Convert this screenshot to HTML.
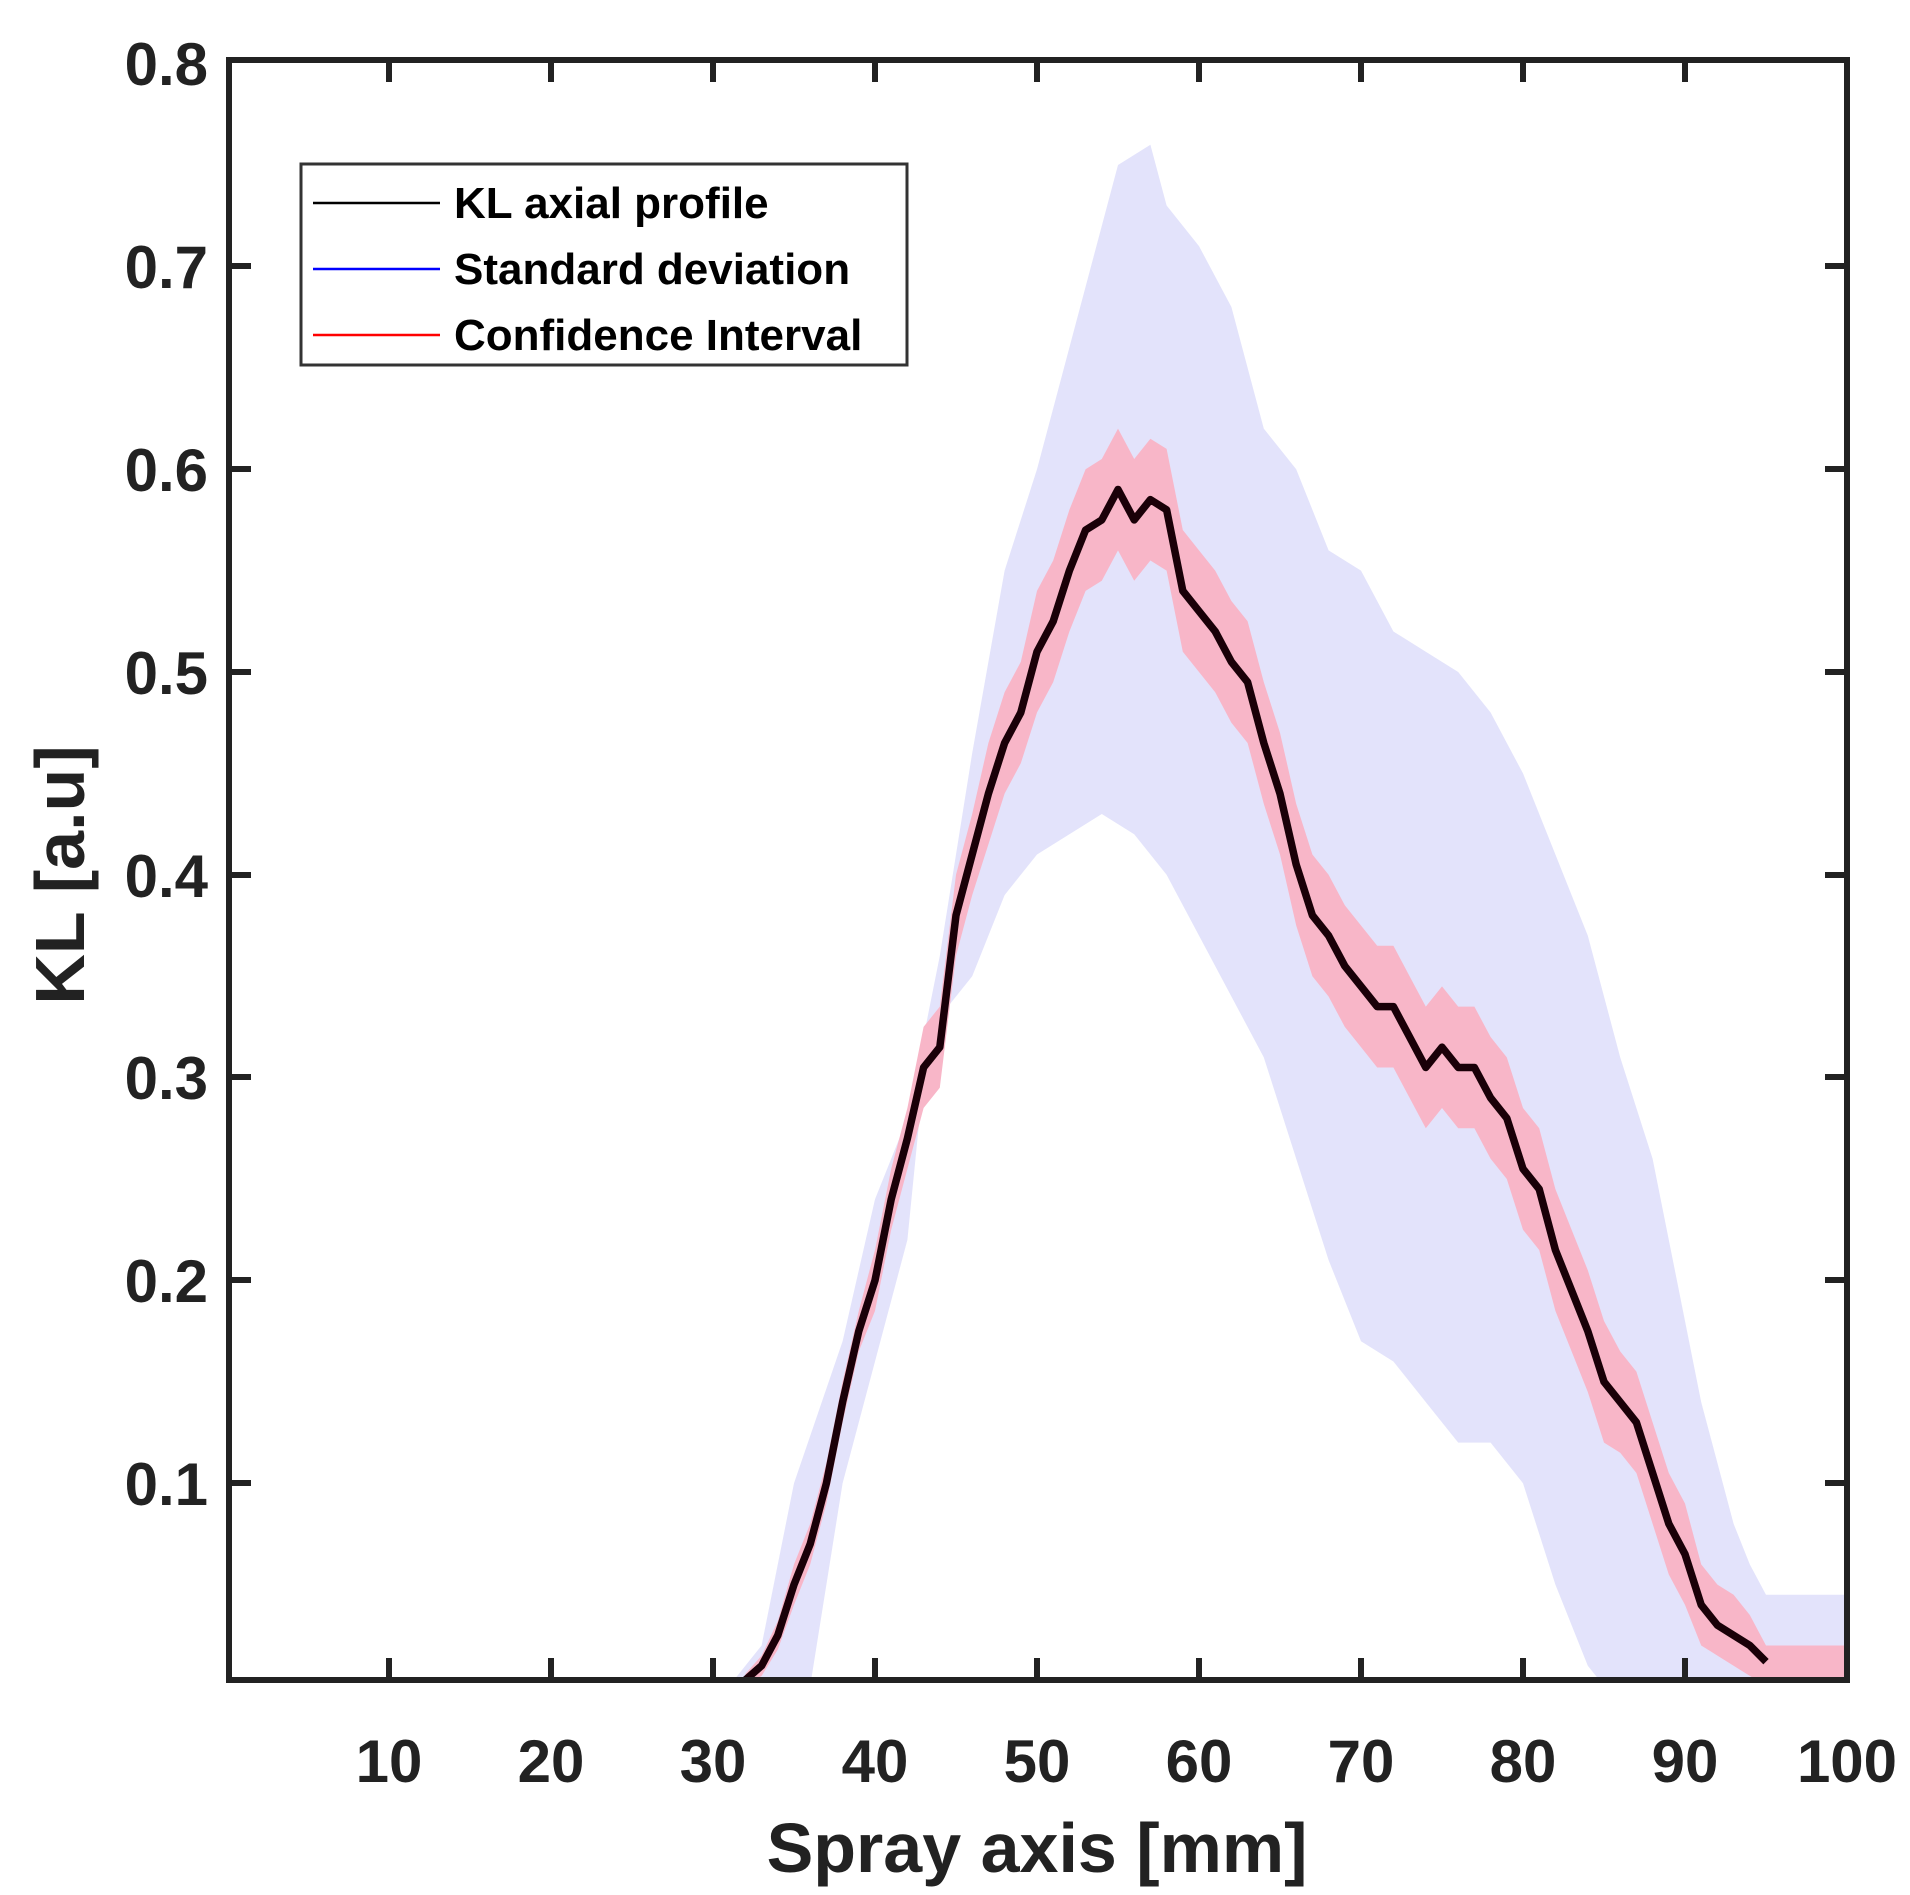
<!DOCTYPE html>
<html><head><meta charset="utf-8"><style>
html,body{margin:0;padding:0;background:#fff;}
svg{display:block;}
text{font-family:"Liberation Sans",Arial,sans-serif;font-weight:bold;fill:#222;}
</style></head><body>
<svg width="1910" height="1895" viewBox="0 0 1910 1895" xmlns="http://www.w3.org/2000/svg">
<defs><clipPath id="c"><rect x="229" y="60" width="1618" height="1620"/></clipPath></defs>
<g clip-path="url(#c)">
<g transform="translate(227,1686) scale(16.2,-2028)">
<polygon fill="#e3e3fb" points="31,0 33,0.02 35,0.1 38,0.17 40,0.24 42,0.28 44,0.36 46,0.46 48,0.55 50,0.6 52,0.66 54,0.72 55,0.75 57,0.76 58,0.73 60,0.71 62,0.68 64,0.62 66,0.6 68,0.56 70,0.55 72,0.52 74,0.51 76,0.5 78,0.48 80,0.45 82,0.41 84,0.37 86,0.31 88,0.26 89,0.22 90,0.18 91,0.14 92,0.11 93,0.08 94,0.06 95,0.045 100,0.045 100,0 85,0 84,0.01 82,0.05 80,0.1 78,0.12 76,0.12 74,0.14 72,0.16 70,0.17 68,0.21 66,0.26 64,0.31 62,0.34 60,0.37 58,0.4 56,0.42 54,0.43 52,0.42 50,0.41 48,0.39 46,0.35 44,0.33 43,0.3 42,0.22 40,0.16 38,0.1 36,0"/>
<polygon fill="#f8b6c8" points="32,0.006 33,0.015 34,0.032 35,0.06 36,0.08 37,0.11 38,0.15 39,0.185 40,0.215 41,0.255 42,0.285 43,0.325 44,0.335 45,0.4 46,0.43 47,0.465 48,0.49 49,0.505 50,0.54 51,0.555 52,0.58 53,0.6 54,0.605 55,0.62 56,0.605 57,0.615 58,0.61 59,0.57 60,0.56 61,0.55 62,0.535 63,0.525 64,0.495 65,0.47 66,0.435 67,0.41 68,0.4 69,0.385 70,0.375 71,0.365 72,0.365 73,0.35 74,0.335 75,0.345 76,0.335 77,0.335 78,0.32 79,0.31 80,0.285 81,0.275 82,0.245 83,0.225 84,0.205 85,0.18 86,0.165 87,0.155 88,0.13 89,0.105 90,0.09 91,0.06 92,0.05 93,0.045 94,0.035 95,0.02 100,0.02 100,0 95,0 94,0.005 93,0.01 92,0.015 91,0.02 90,0.04 89,0.055 88,0.08 87,0.105 86,0.115 85,0.12 84,0.145 83,0.165 82,0.185 81,0.215 80,0.225 79,0.25 78,0.26 77,0.275 76,0.275 75,0.285 74,0.275 73,0.29 72,0.305 71,0.305 70,0.315 69,0.325 68,0.34 67,0.35 66,0.375 65,0.41 64,0.435 63,0.465 62,0.475 61,0.49 60,0.5 59,0.51 58,0.55 57,0.555 56,0.545 55,0.56 54,0.545 53,0.54 52,0.52 51,0.495 50,0.48 49,0.455 48,0.44 47,0.415 46,0.39 45,0.36 44,0.295 43,0.285 42,0.255 41,0.225 40,0.185 39,0.165 38,0.13 37,0.09 36,0.06 35,0.04 34,0.018 33,0.005 32,0"/>
<polyline fill="none" stroke="#1a0008" stroke-width="7.5" vector-effect="non-scaling-stroke" stroke-linejoin="round" points="0,0 31,0 32,0.003 33,0.01 34,0.025 35,0.05 36,0.07 37,0.1 38,0.14 39,0.175 40,0.2 41,0.24 42,0.27 43,0.305 44,0.315 45,0.38 46,0.41 47,0.44 48,0.465 49,0.48 50,0.51 51,0.525 52,0.55 53,0.57 54,0.575 55,0.59 56,0.575 57,0.585 58,0.58 59,0.54 60,0.53 61,0.52 62,0.505 63,0.495 64,0.465 65,0.44 66,0.405 67,0.38 68,0.37 69,0.355 70,0.345 71,0.335 72,0.335 73,0.32 74,0.305 75,0.315 76,0.305 77,0.305 78,0.29 79,0.28 80,0.255 81,0.245 82,0.215 83,0.195 84,0.175 85,0.15 86,0.14 87,0.13 88,0.105 89,0.08 90,0.065 91,0.04 92,0.03 93,0.025 94,0.02 95,0.012"/>
</g>
</g>
<g stroke="#222" stroke-width="6" fill="none">
<rect x="229" y="60" width="1618" height="1620"/>
<path d="M389,1680v-22M551,1680v-22M713,1680v-22M875,1680v-22M1037,1680v-22M1199,1680v-22M1361,1680v-22M1523,1680v-22M1685,1680v-22
M389,60v22M551,60v22M713,60v22M875,60v22M1037,60v22M1199,60v22M1361,60v22M1523,60v22M1685,60v22
M229,1483h22M229,1280h22M229,1077h22M229,875h22M229,672h22M229,469h22M229,266h22
M1847,1483h-22M1847,1280h-22M1847,1077h-22M1847,875h-22M1847,672h-22M1847,469h-22M1847,266h-22"/>
</g>
<g font-size="60" text-anchor="end">
<text x="208" y="85">0.8</text>
<text x="208" y="288">0.7</text>
<text x="208" y="491">0.6</text>
<text x="208" y="694">0.5</text>
<text x="208" y="897">0.4</text>
<text x="208" y="1099">0.3</text>
<text x="208" y="1302">0.2</text>
<text x="208" y="1505">0.1</text>
</g>
<g font-size="60" text-anchor="middle">
<text x="389" y="1782">10</text><text x="551" y="1782">20</text><text x="713" y="1782">30</text>
<text x="875" y="1782">40</text><text x="1037" y="1782">50</text><text x="1199" y="1782">60</text>
<text x="1361" y="1782">70</text><text x="1523" y="1782">80</text><text x="1685" y="1782">90</text>
<text x="1847" y="1782">100</text>
</g>
<text x="1037" y="1872" font-size="70" text-anchor="middle">Spray axis [mm]</text>
<text transform="translate(84,875) rotate(-90)" font-size="70" text-anchor="middle">KL [a.u]</text>
<rect x="301" y="164" width="606" height="201" fill="#fff" stroke="#333" stroke-width="3"/>
<line x1="313" y1="203" x2="440" y2="203" stroke="#000" stroke-width="2.5"/>
<line x1="313" y1="269" x2="440" y2="269" stroke="#00f" stroke-width="2.5"/>
<line x1="313" y1="335" x2="440" y2="335" stroke="#f00" stroke-width="2.5"/>
<g font-size="44">
<text x="454" y="218" style="fill:#000">KL axial profile</text>
<text x="454" y="284" style="fill:#000">Standard deviation</text>
<text x="454" y="350" style="fill:#000">Confidence Interval</text>
</g>
</svg>
</body></html>
